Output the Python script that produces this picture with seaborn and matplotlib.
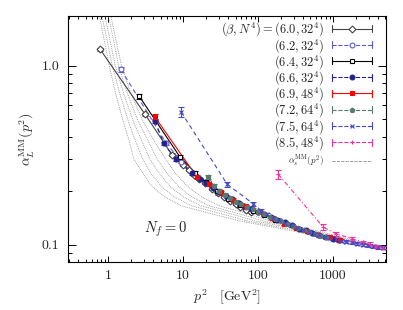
import numpy as np
import pandas as pd
import seaborn as sns
import matplotlib
matplotlib.use('Agg')
import matplotlib.pyplot as plt
from matplotlib.lines import Line2D
from matplotlib.legend_handler import HandlerBase
from matplotlib.ticker import FixedLocator, FixedFormatter, NullFormatter

# beta = 6.0, 32^4
p2_60 = [0.78, 3.1, 7.07, 10.1, 12, 14.0, 16.5, 19.7, 24, 29.5, 35, 42, 50, 57, 68, 80]
a_60 = [1.23, 0.534, 0.318, 0.280, 0.262, 0.245, 0.232, 0.220, 0.205, 0.193,
        0.184, 0.176, 0.169, 0.163, 0.157, 0.152]
e_60 = [0.02, 0.012, 0.006, 0.005, 0.004, 0.004, 0.003, 0.003, 0.003, 0.003,
        0.002, 0.002, 0.002, 0.002, 0.002, 0.002]
# beta = 6.2, 32^4
p2_62 = [1.48, 5.9, 9.5, 13.5, 20, 30, 45, 70, 100]
a_62 = [0.95, 0.37, 0.29, 0.25, 0.222, 0.198, 0.180, 0.163, 0.153]
e_62 = [0.025, 0.01, 0.006, 0.005, 0.004, 0.003, 0.003, 0.002, 0.002]
# beta = 6.4, 32^4
p2_64 = [2.59, 9.0, 14.5, 20, 28, 40, 58, 85, 120, 170]
a_64 = [0.674, 0.31, 0.252, 0.225, 0.200, 0.180, 0.166, 0.154, 0.146, 0.138]
e_64 = [0.02, 0.008, 0.005, 0.004, 0.003, 0.003, 0.002, 0.002, 0.002, 0.002]
# beta = 6.6, 32^4
p2_66 = [4.2, 5.5, 8.0, 13, 17, 20, 25, 30, 37, 45, 55, 65, 80, 100, 120, 150,
         180, 230, 280, 350, 430, 520, 650, 800, 1000, 1200]
a_66 = [0.49, 0.367, 0.30, 0.250, 0.232, 0.222, 0.207, 0.197, 0.187, 0.179,
        0.171, 0.165, 0.159, 0.153, 0.148, 0.142, 0.138, 0.133, 0.128, 0.123,
        0.120, 0.116, 0.113, 0.110, 0.108, 0.106]
e_66 = [0.015, 0.008, 0.006, 0.005, 0.004, 0.004, 0.003, 0.003, 0.003, 0.003,
        0.002, 0.002, 0.002, 0.002, 0.002, 0.002, 0.002, 0.002, 0.002, 0.002,
        0.002, 0.002, 0.002, 0.002, 0.002, 0.002]
# beta = 6.9, 48^4
p2_69 = [4.2, 15.2, 22, 32, 47, 68, 106, 152, 220, 320, 445, 650, 900, 1250]
a_69 = [0.516, 0.239, 0.218, 0.197, 0.178, 0.164, 0.152, 0.140, 0.131, 0.124,
        0.119, 0.113, 0.110, 0.106]
e_69 = [0.02, 0.006, 0.004, 0.003, 0.003, 0.002, 0.002, 0.002, 0.002, 0.002,
        0.002, 0.002, 0.002, 0.002]
# beta = 7.2, 64^4
p2_72 = [21.7, 26, 30, 36, 42, 50, 60, 72, 85, 100, 120, 145, 170, 200, 240,
         290, 340, 410, 480, 570, 680, 800]
a_72 = [0.239, 0.212, 0.200, 0.189, 0.182, 0.174, 0.168, 0.162, 0.158, 0.153,
        0.148, 0.143, 0.139, 0.135, 0.131, 0.127, 0.124, 0.120, 0.117, 0.115,
        0.112, 0.110]
e_72 = [0.006, 0.005, 0.004, 0.004, 0.003, 0.003, 0.003, 0.002, 0.002, 0.002,
        0.002, 0.002, 0.002, 0.002, 0.002, 0.002, 0.002, 0.002, 0.002, 0.002,
        0.002, 0.002]
# beta = 7.5, 64^4
p2_75 = [9.4, 38.8, 86.6, 110, 130, 160, 190, 230, 280, 330, 400, 480, 560, 660,
         780, 920, 1100, 1300, 1500, 1800, 2100, 2500, 2900, 3400, 4000, 4600]
a_75 = [0.55, 0.217, 0.169, 0.155, 0.148, 0.141, 0.137, 0.132, 0.128, 0.124,
        0.121, 0.118, 0.115, 0.113, 0.111, 0.109, 0.107, 0.105, 0.104, 0.103,
        0.101, 0.100, 0.099, 0.098, 0.097, 0.096]
e_75 = [0.035, 0.008, 0.005, 0.004, 0.003, 0.003, 0.002, 0.002, 0.002, 0.002,
        0.002, 0.002, 0.002, 0.002, 0.002, 0.002, 0.002, 0.002, 0.002, 0.002,
        0.002, 0.002, 0.002, 0.002, 0.002, 0.002]
# beta = 8.5, 48^4
p2_85 = [186, 745, 1100, 1790, 2500, 3100, 3800, 4600]
a_85 = [0.247, 0.125, 0.115, 0.108, 0.103, 0.101, 0.098, 0.096]
e_85 = [0.014, 0.005, 0.003, 0.003, 0.002, 0.002, 0.002, 0.002]

# perturbative alpha_s^MM curves
curve_a = [2.2, 1.9, 1.4, 1.0, 0.7, 0.49, 0.38, 0.3, 0.25, 0.21, 0.185,
           0.165, 0.15, 0.135, 0.12, 0.108, 0.1, 0.095]
curve_p2 = [
    [0.64, 0.76, 0.88, 1.03, 1.25, 1.58, 1.9, 2.2, 2.9, 3.9, 5.6,
     9.4, 22, 60, 273, 840, 2100, 4000],
    [0.68, 0.82, 0.96, 1.13, 1.42, 1.85, 2.3, 2.9, 3.7, 5.2, 7.6,
     12.8, 30, 75, 336, 1020, 2440, 4500],
    [0.75, 0.90, 1.05, 1.24, 1.60, 2.15, 2.8, 3.6, 4.8, 6.8, 10,
     17, 40, 95, 420, 1200, 2800, 5000],
    [0.82, 1.00, 1.17, 1.37, 1.80, 2.50, 3.4, 4.5, 6.1, 8.8, 13,
     22, 52, 120, 504, 1380, 3160, 5500],
    [0.90, 1.08, 1.26, 1.50, 2.00, 2.90, 4.1, 5.8, 7.9, 11.6, 17.5,
     30, 68, 150, 590, 1560, 3500, 6000],
]

series = [
    (r'$(\beta,N^4)=(6.0,32^4)$', p2_60, a_60, e_60, '#444444', '-', 'D', 'white'),
    (r'$(6.2,32^4)$', p2_62, a_62, e_62, '#5a5acc', (0, (4, 3)), 'o', 'white'),
    (r'$(6.4,32^4)$', p2_64, a_64, e_64, 'black', '-', 's', 'white'),
    (r'$(6.6,32^4)$', p2_66, a_66, e_66, '#22228a', (0, (4, 3)), 'o', None),
    (r'$(6.9,48^4)$', p2_69, a_69, e_69, '#ff0000', '-', 's', None),
    (r'$(7.2,64^4)$', p2_72, a_72, e_72, '#5a7a6e', (0, (2, 1.5)), 'p', None),
    (r'$(7.5,64^4)$', p2_75, a_75, e_75, '#4848c4', (0, (4, 3)), 'x', None),
    (r'$(8.5,48^4)$', p2_85, a_85, e_85, '#f0309c', (0, (4, 2, 1, 2)), '+', None),
]


class CapHandler(HandlerBase):
    def create_artists(self, legend, orig, xd, yd, w, h, fs, trans):
        y = h / 2 - yd
        x0, x1 = -xd, -xd + w
        arts = [Line2D([x0, x1], [y, y], color=orig.get_color(),
                       ls=orig.get_linestyle(), lw=orig.get_linewidth())]
        if orig.get_marker() not in ('None', None, ''):
            c = h * 0.4
            arts.append(Line2D([x0, x0], [y - c, y + c], color=orig.get_color(), lw=0.8))
            arts.append(Line2D([x1, x1], [y - c, y + c], color=orig.get_color(), lw=0.8))
            arts.append(Line2D([(x0 + x1) / 2], [y], ls='none', marker=orig.get_marker(),
                               ms=orig.get_markersize(), mfc=orig.get_markerfacecolor(),
                               mec=orig.get_markeredgecolor(), mew=0.8))
        for a in arts:
            a.set_transform(trans)
        return arts


sns.set_style('ticks')
plt.rcParams['font.family'] = ['cmr10']
plt.rcParams['mathtext.fontset'] = 'cm'
plt.rcParams['axes.formatter.use_mathtext'] = True

fig = plt.figure(figsize=(4.03, 3.10), dpi=100)
ax = fig.add_axes([0.1687, 0.1548, 0.789, 0.795])

for k, cp in enumerate(curve_p2):
    d = pd.DataFrame({'p2': cp, 'a': curve_a})
    sns.lineplot(data=d, x='p2', y='a', ax=ax, color='#8c8c8c', lw=0.6,
                 linestyle=(0, (1, 1.2)), sort=False, estimator=None)

handles = []
for lab, xs, ys, es, col, ls, mk, mfc in series:
    d = pd.DataFrame({'p2': xs, 'a': ys})
    face = mfc if mfc else col
    sns.lineplot(data=d, x='p2', y='a', ax=ax, color=col, lw=0.8, linestyle=ls,
                 estimator=None, zorder=3)
    ax.errorbar(xs, ys, yerr=es, fmt='none', ecolor=col, elinewidth=0.8,
                capsize=2.5, capthick=0.8, zorder=4)
    ax.plot(xs, ys, ls='none', marker=mk, ms=3.5, mfc=face, mec=col, mew=0.8, zorder=5)
    handles.append(Line2D([], [], color=col, ls=ls, lw=0.8, marker=mk, ms=3.5,
                          mfc=face, mec=col, label=lab))
pt_handle = Line2D([], [], color='#8c8c8c', ls=(0, (1, 1.2)), lw=0.6,
                   label=r'$\alpha_s^{\rm MM}(p^2)$')

ax.set_xscale('log')
ax.set_yscale('log')
ax.set_xlim(0.29, 5100)
ax.set_ylim(0.08, 1.9)

ax.xaxis.set_major_locator(FixedLocator([1, 10, 100, 1000]))
ax.xaxis.set_major_formatter(FixedFormatter(['1', '10', '100', '1000']))
ax.yaxis.set_major_locator(FixedLocator([0.1, 1.0]))
ax.yaxis.set_major_formatter(FixedFormatter(['0.1', '1.0']))
ax.xaxis.set_minor_formatter(NullFormatter())
ax.yaxis.set_minor_formatter(NullFormatter())
ax.tick_params(which='both', direction='in', top=True, right=True, labelsize=10,
               width=0.7, color='black', pad=6)
ax.tick_params(axis='x', which='major', length=4)
ax.tick_params(axis='x', which='minor', length=2.2)
ax.tick_params(axis='y', which='major', length=5.5)
ax.tick_params(axis='y', which='minor', length=2.8)
for s in ax.spines.values():
    s.set_linewidth(0.8)
    s.set_color('black')

ax.set_xlabel(r'$p^2\quad[{\rm GeV}^2]$', fontsize=10)
ax.set_ylabel(r'$\alpha_L^{\rm MM}(p^2)$', fontsize=10)
ax.text(0.24, 0.12, r'$N_f=0$', transform=ax.transAxes, fontsize=10.5)

leg = ax.legend(handles=handles, loc='upper right', bbox_to_anchor=(0.955, 0.98),
                frameon=False, markerfirst=False, fontsize=9, handlelength=3.2,
                handletextpad=0.6, labelspacing=-0.13, borderaxespad=0, borderpad=0,
                handler_map={Line2D: CapHandler()})
ax.add_artist(leg)
ax.legend(handles=[pt_handle], loc='upper right', bbox_to_anchor=(0.955, 0.44),
          frameon=False, markerfirst=False, fontsize=6.5, handlelength=4.43,
          handletextpad=0.83, borderaxespad=0, borderpad=0,
          handler_map={Line2D: CapHandler()})

fig.savefig('out.png', dpi=100)
